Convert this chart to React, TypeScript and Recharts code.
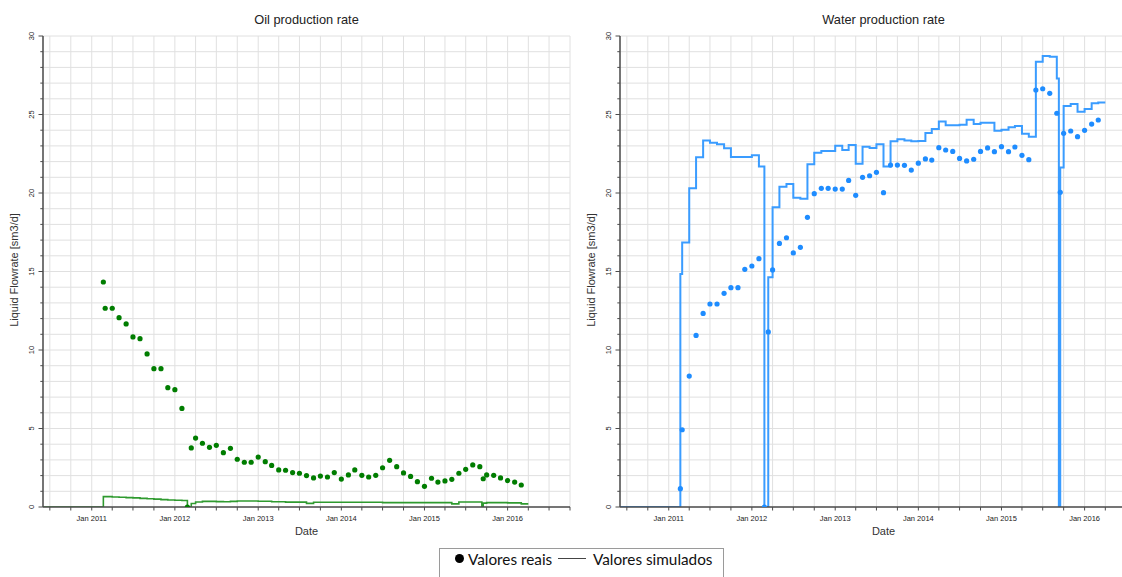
import React from 'react';
import { ComposedChart, Line, Scatter, XAxis, YAxis, CartesianGrid } from 'recharts';

// Measured (real) values, one date list shared by both panels
const realDates = [
  '2011-02-21', '2011-03-01', '2011-04-01', '2011-05-01', '2011-06-01', '2011-07-01',
  '2011-08-01', '2011-09-01', '2011-10-01', '2011-11-01', '2011-12-01', '2012-01-01',
  '2012-02-01', '2012-02-25', '2012-03-13', '2012-04-01', '2012-05-01', '2012-06-01',
  '2012-07-01', '2012-08-01', '2012-09-01', '2012-10-01', '2012-11-01', '2012-12-01',
  '2013-01-01', '2013-02-01', '2013-03-01', '2013-04-01', '2013-05-01', '2013-06-01',
  '2013-07-01', '2013-08-01', '2013-09-01', '2013-10-01', '2013-11-01', '2013-12-01',
  '2014-01-01', '2014-02-01', '2014-03-01', '2014-04-01', '2014-05-01', '2014-06-01',
  '2014-07-01', '2014-08-01', '2014-09-01', '2014-10-01', '2014-11-01', '2014-12-01',
  '2015-01-01', '2015-02-01', '2015-03-01', '2015-04-01', '2015-05-01', '2015-06-01',
  '2015-07-01', '2015-08-01', '2015-09-01', '2015-09-16', '2015-10-01', '2015-11-01',
  '2015-12-01', '2016-01-01', '2016-02-01', '2016-03-01',
];

const oilReal = [
  14.33, 12.66, 12.66, 12.06, 11.66, 10.83,
  10.72, 9.75, 8.81, 8.81, 7.6, 7.47,
  6.28, 0, 3.76, 4.39, 4.06, 3.8,
  3.93, 3.46, 3.74, 3.04, 2.85, 2.85,
  3.18, 2.89, 2.65, 2.36, 2.34, 2.19,
  2.15, 2.0, 1.85, 1.97, 1.91, 2.19,
  1.78, 2.04, 2.36, 2.02, 1.91, 2.02,
  2.5, 2.97, 2.57, 2.17, 1.95, 1.61,
  1.32, 1.83, 1.59, 1.66, 1.76, 2.15,
  2.4, 2.68, 2.57, 1.8, 2.04, 2.02,
  1.85, 1.68, 1.59, 1.4,
];

const waterReal = [
  1.17, 4.92, 8.34, 10.93, 12.33, 12.93,
  12.93, 13.61, 13.97, 13.97, 15.14, 15.35,
  15.82, 0, 11.15, 15.1, 16.79, 17.15,
  16.18, 16.54, 18.45, 19.96, 20.3, 20.3,
  20.25, 20.25, 20.8, 19.85, 21.0, 21.1,
  21.32, 20.02, 21.78, 21.78, 21.76, 21.46,
  21.9, 22.17, 22.1, 22.89, 22.74, 22.65,
  22.2, 22.04, 22.15, 22.65, 22.87, 22.63,
  22.95, 22.63, 22.93, 22.4, 22.12, 26.56,
  26.64, 26.35, 25.08, 20.04, 23.8, 23.95,
  23.59, 23.99, 24.39, 24.65,
];

// Simulated values (step changes)
const oilSimDates = [
  '2010-06-01', '2011-02-21', '2011-04-01', '2011-05-01', '2011-06-01', '2011-07-01',
  '2011-08-01', '2011-09-01', '2011-10-01', '2011-11-01', '2011-12-01', '2012-01-01',
  '2012-02-01', '2012-02-25', '2012-03-13', '2012-04-01', '2012-05-01', '2012-07-01',
  '2012-08-01', '2012-09-01', '2012-10-01', '2013-01-01', '2013-03-01', '2013-05-01',
  '2013-08-01', '2013-09-01', '2014-07-01', '2015-05-01', '2015-06-01', '2015-09-10',
  '2015-09-16', '2015-10-01', '2016-01-01', '2016-03-01', '2016-04-01',
];
const oilSimValues = [
  0, 0.66, 0.64, 0.62, 0.6, 0.58,
  0.55, 0.53, 0.5, 0.47, 0.45, 0.43,
  0.41, 0, 0.22, 0.32, 0.36, 0.34,
  0.33, 0.36, 0.38, 0.37, 0.33, 0.31,
  0.23, 0.3, 0.28, 0.2, 0.32, 0,
  0.25, 0.28, 0.26, 0.2, 0.2,
];

const waterSimDates = [
  '2010-06-01', '2011-02-21', '2011-03-01', '2011-04-01', '2011-05-01', '2011-06-01',
  '2011-07-01', '2011-08-01', '2011-09-01', '2011-10-01', '2012-01-01', '2012-02-01',
  '2012-02-25', '2012-03-13', '2012-04-01', '2012-05-01', '2012-06-01', '2012-07-01',
  '2012-08-01', '2012-09-01', '2012-10-01', '2012-11-01', '2013-01-01', '2013-02-01',
  '2013-03-01', '2013-04-01', '2013-05-01', '2013-06-01', '2013-07-01', '2013-08-01',
  '2013-09-01', '2013-10-01', '2013-11-01', '2013-12-01', '2014-01-01', '2014-02-01',
  '2014-03-01', '2014-04-01', '2014-05-01', '2014-07-01', '2014-08-01', '2014-09-01',
  '2014-10-01', '2014-12-01', '2015-01-01', '2015-02-01', '2015-03-01', '2015-04-01',
  '2015-05-01', '2015-06-01', '2015-07-01', '2015-08-01', '2015-09-01', '2015-09-10',
  '2015-09-16', '2015-10-01', '2015-11-01', '2015-12-01', '2016-01-01', '2016-02-01',
  '2016-03-01', '2016-04-01',
];
const waterSimValues = [
  0, 14.84, 16.85, 20.3, 22.27, 23.35,
  23.2, 23.1, 22.85, 22.3, 22.4, 21.68,
  0, 14.63, 19.09, 20.4, 20.57, 19.7,
  19.64, 21.83, 22.57, 22.68, 23.01, 22.74,
  23.06, 21.87, 22.94, 22.87, 23.1, 21.68,
  23.29, 23.43, 23.35, 23.29, 23.31, 23.82,
  24.08, 24.55, 24.31, 24.35, 24.67, 24.39,
  24.47, 23.97, 24.03, 24.18, 24.27, 23.78,
  23.59, 28.36, 28.73, 28.68, 27.3, 0,
  21.63, 25.54, 25.67, 25.18, 25.35, 25.71,
  25.76, 25.76,
];

// Axis ticks
const xDomain = ['2010-06-01', '2016-10-01'];
const xTickDates = [
  '2010-07-01', '2010-10-01',
  '2011-01-01', '2011-04-01', '2011-07-01', '2011-10-01',
  '2012-01-01', '2012-04-01', '2012-07-01', '2012-10-01',
  '2013-01-01', '2013-04-01', '2013-07-01', '2013-10-01',
  '2014-01-01', '2014-04-01', '2014-07-01', '2014-10-01',
  '2015-01-01', '2015-04-01', '2015-07-01', '2015-10-01',
  '2016-01-01', '2016-04-01', '2016-07-01', '2016-10-01',
];
const yTicks = [
  0, 1, 2, 3, 4, 5, 6, 7, 8, 9, 10, 11, 12, 13, 14, 15,
  16, 17, 18, 19, 20, 21, 22, 23, 24, 25, 26, 27, 28, 29, 30,
];

const CHART_FONT = '"Liberation Sans", Arial, sans-serif';
const AXIS_COLOR = '#4d4d4d';
const TEXT_COLOR = '#222';

const toTime = (s: string) => {
  const [y, m, d] = s.split('-').map(Number);
  return Date.UTC(y, m - 1, d);
};

function XTick(props: any) {
  const { x, y, payload } = props;
  const d = new Date(payload.value);
  const isJan = d.getUTCMonth() === 0;
  return (
    <g>
      <line x1={x} x2={x} y1={y} y2={y + 3.5} stroke={AXIS_COLOR} strokeWidth={1} />
      {isJan && (
        <text x={x} y={y + 13.5} textAnchor="middle" fontSize={7.5} fill={TEXT_COLOR} fontFamily={CHART_FONT}>
          {`Jan ${d.getUTCFullYear()}`}
        </text>
      )}
    </g>
  );
}

function YTick(props: any) {
  const { x, y, payload } = props;
  const v = payload.value;
  const major = v % 5 === 0;
  return (
    <g>
      <line x1={x} x2={x - (major ? 4.5 : 2.7)} y1={y} y2={y} stroke={AXIS_COLOR} strokeWidth={1} />
      {major && (
        <text
          transform={`translate(${x - 9.5},${y}) rotate(-90)`}
          textAnchor="middle"
          fontSize={7.5}
          fill={TEXT_COLOR}
          fontFamily={CHART_FONT}
        >
          {v}
        </text>
      )}
    </g>
  );
}

function Dot(props: any) {
  const { cx, cy, fill } = props;
  if (cx == null || cy == null) return null;
  return <circle cx={cx} cy={cy} r={2.6} fill={fill} />;
}

interface PanelProps {
  left: number;
  title: string;
  real: number[];
  simDates: string[];
  simValues: number[];
  dotColor: string;
  lineColor: string;
  lineWidth: number;
}

const W = 580;
const H = 545;

function Panel({ left, title, real, simDates, simValues, dotColor, lineColor, lineWidth }: PanelProps) {
  const realData = realDates.map((d, i) => ({ t: toTime(d), v: real[i] }));
  const simData = simDates.map((d, i) => ({ t: toTime(d), v: simValues[i] }));
  const xTicks = xTickDates.map(toTime);

  return (
    <div style={{ position: 'absolute', left, top: 0, width: W, height: H }}>
      <div
        style={{
          position: 'absolute', left: 43, width: 527, top: 11, textAlign: 'center',
          fontSize: 12.8, color: TEXT_COLOR, fontFamily: CHART_FONT, lineHeight: '17px',
        }}
      >
        {title}
      </div>
      <div
        style={{
          position: 'absolute', left: 14, top: 270, transform: 'translate(-50%, -50%) rotate(-90deg)',
          whiteSpace: 'nowrap', fontSize: 11, color: '#333', fontFamily: CHART_FONT,
        }}
      >
        Liquid Flowrate [sm3/d]
      </div>
      <div
        style={{
          position: 'absolute', left: 43, width: 527, top: 524, textAlign: 'center',
          fontSize: 11, color: '#333', fontFamily: CHART_FONT, lineHeight: '15px',
        }}
      >
        Date
      </div>
      <ComposedChart width={W} height={H} margin={{ top: 36, right: 10, bottom: 8, left: 13 }}>
        <CartesianGrid stroke="#e0e0e0" strokeWidth={1} />
        <XAxis
          type="number"
          dataKey="t"
          domain={[toTime(xDomain[0]), toTime(xDomain[1])]}
          allowDataOverflow
          ticks={xTicks}
          interval={0}
          tick={<XTick />}
          tickLine={false}
          tickSize={0}
          tickMargin={0}
          height={30}
          stroke={AXIS_COLOR}
          strokeWidth={1.5}
        />
        <YAxis
          type="number"
          dataKey="v"
          domain={[0, 30]}
          allowDataOverflow
          ticks={yTicks}
          interval={0}
          tick={<YTick />}
          tickLine={false}
          tickSize={0}
          tickMargin={0}
          width={30}
          stroke={AXIS_COLOR}
          strokeWidth={1.5}
        />
        <Line
          data={simData}
          dataKey="v"
          type="stepAfter"
          stroke={lineColor}
          strokeWidth={lineWidth}
          dot={false}
          activeDot={false}
          isAnimationActive={false}
        />
        <Scatter
          data={realData}
          dataKey="v"
          fill={dotColor}
          shape={<Dot />}
          isAnimationActive={false}
        />
      </ComposedChart>
    </div>
  );
}

export default function App() {
  return (
    <div
      style={{
        position: 'absolute', left: 0, top: 0, width: 1122, height: 577,
        overflow: 'hidden', background: '#fff',
      }}
    >
      <Panel
        left={0}
        title="Oil production rate"
        real={oilReal}
        simDates={oilSimDates}
        simValues={oilSimValues}
        dotColor="#007d00"
        lineColor="#2f9a2f"
        lineWidth={1.6}
      />
      <Panel
        left={577}
        title="Water production rate"
        real={waterReal}
        simDates={waterSimDates}
        simValues={waterSimValues}
        dotColor="#1e8cff"
        lineColor="#3a9cff"
        lineWidth={2}
      />
      <div
        style={{
          position: 'absolute', left: 439, top: 548, width: 285, height: 40,
          border: '1px solid #9a9a9a', boxSizing: 'border-box', background: '#fff',
          fontFamily: 'Lato, "Open Sans", sans-serif', fontSize: 15.3, color: '#111',
        }}
      >
        <div style={{ position: 'absolute', left: 15, top: 5, width: 9, height: 9, borderRadius: '50%', background: '#000' }} />
        <div style={{ position: 'absolute', left: 28, top: 0, lineHeight: '20px', whiteSpace: 'nowrap' }}>Valores reais</div>
        <div style={{ position: 'absolute', left: 118, top: 9, width: 28, height: 1, background: '#444' }} />
        <div style={{ position: 'absolute', left: 153, top: 0, lineHeight: '20px', whiteSpace: 'nowrap' }}>Valores simulados</div>
      </div>
    </div>
  );
}
